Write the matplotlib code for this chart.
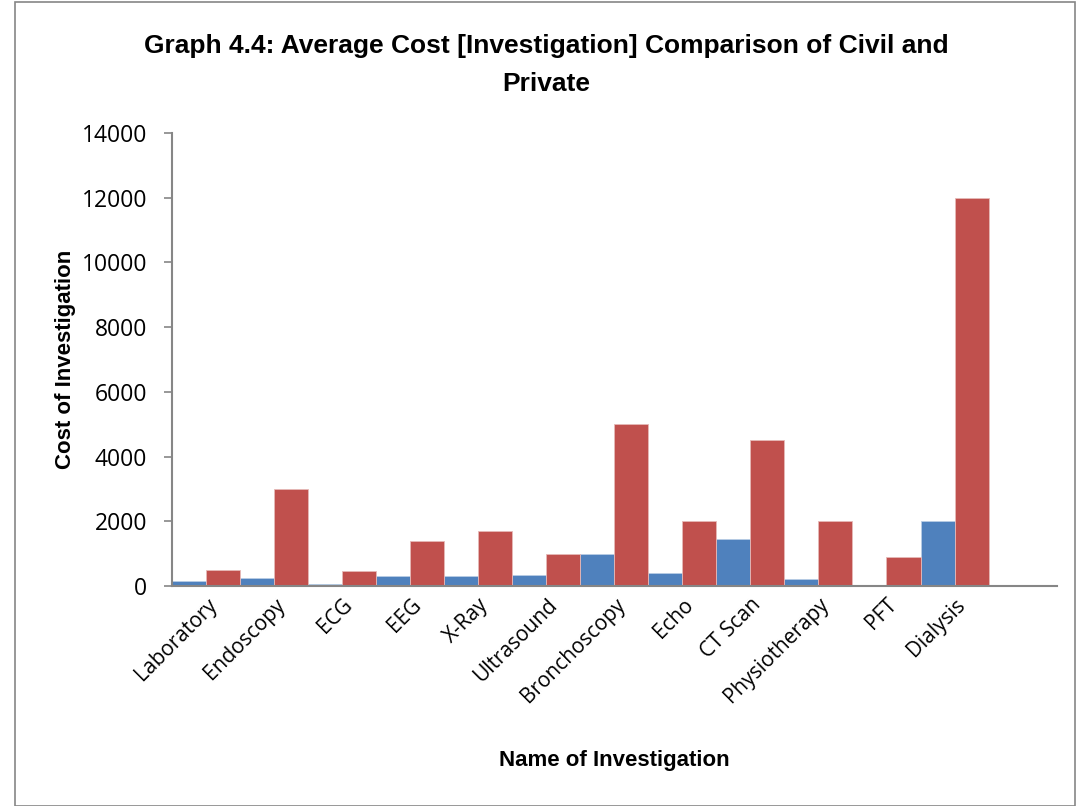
import matplotlib
matplotlib.use("Agg")
import matplotlib.pyplot as plt
import numpy as np
from matplotlib.patches import Rectangle

categories = ["Laboratory", "Endoscopy", "ECG", "EEG", "X-Ray", "Ultrasound",
              "Bronchoscopy", "Echo", "CT Scan", "Physiotherapy", "PFT", "Dialysis"]
civil = [150, 250, 50, 300, 300, 350, 1000, 400, 1450, 200, 0, 2000]
private = [500, 3000, 450, 1400, 1700, 1000, 5000, 2000, 4500, 2000, 900, 12000]
y_ticks = [0, 2000, 4000, 6000, 8000, 10000, 12000, 14000]

blue = "#4F81BD"
red = "#C0504D"
narrow = ["Liberation Sans Narrow", "Liberation Sans", "DejaVu Sans"]
body = ["Open Sans", "DejaVu Sans"]

fig = plt.figure(figsize=(10.77, 8.06), dpi=100)
ax = fig.add_axes([0.160, 0.273, 0.821, 0.562])

x = np.arange(len(categories))
w = 0.5
ax.bar(x - w / 2, civil, width=w, color=blue, edgecolor="#B9CDE5", linewidth=0.6, label="Civil")
ax.bar(x + w / 2, private, width=w, color=red, edgecolor="#E6B9B8", linewidth=0.6, label="Private")

ax.set_xlim(-0.5, len(categories) + 0.5)
ax.set_ylim(0, 14000)
ax.set_yticks(y_ticks)
ax.set_yticklabels([str(v) for v in y_ticks], fontsize=16.5, family=body)
ax.set_xticks(x)
ax.set_xticklabels(categories, rotation=45, ha="right", rotation_mode="anchor",
                   fontsize=15, family=body)
ax.tick_params(axis="x", length=0, pad=6)
ax.tick_params(axis="y", length=6, width=1.2, color="#868686", direction="out", pad=12)

for side in ["top", "right"]:
    ax.spines[side].set_visible(False)
for side in ["left", "bottom"]:
    ax.spines[side].set_color("#868686")
    ax.spines[side].set_linewidth(1.5)

ax.set_ylabel("Cost of Investigation", fontsize=16, fontweight="bold", family=narrow, labelpad=4)
ax.set_xlabel("Name of Investigation", fontsize=16, fontweight="bold", family=narrow, labelpad=31)

fig.text(0.507, 0.943, "Graph 4.4: Average Cost [Investigation] Comparison of Civil and",
         ha="center", va="center", fontsize=19, fontweight="bold", family=narrow)
fig.text(0.507, 0.896, "Private", ha="center", va="center", fontsize=19,
         fontweight="bold", family=narrow)

fig.patches.append(Rectangle((0.014, 0.0), 0.984, 0.997, transform=fig.transFigure,
                             fill=False, edgecolor="#868686", linewidth=1.2))

fig.savefig("out.png", dpi=100)
